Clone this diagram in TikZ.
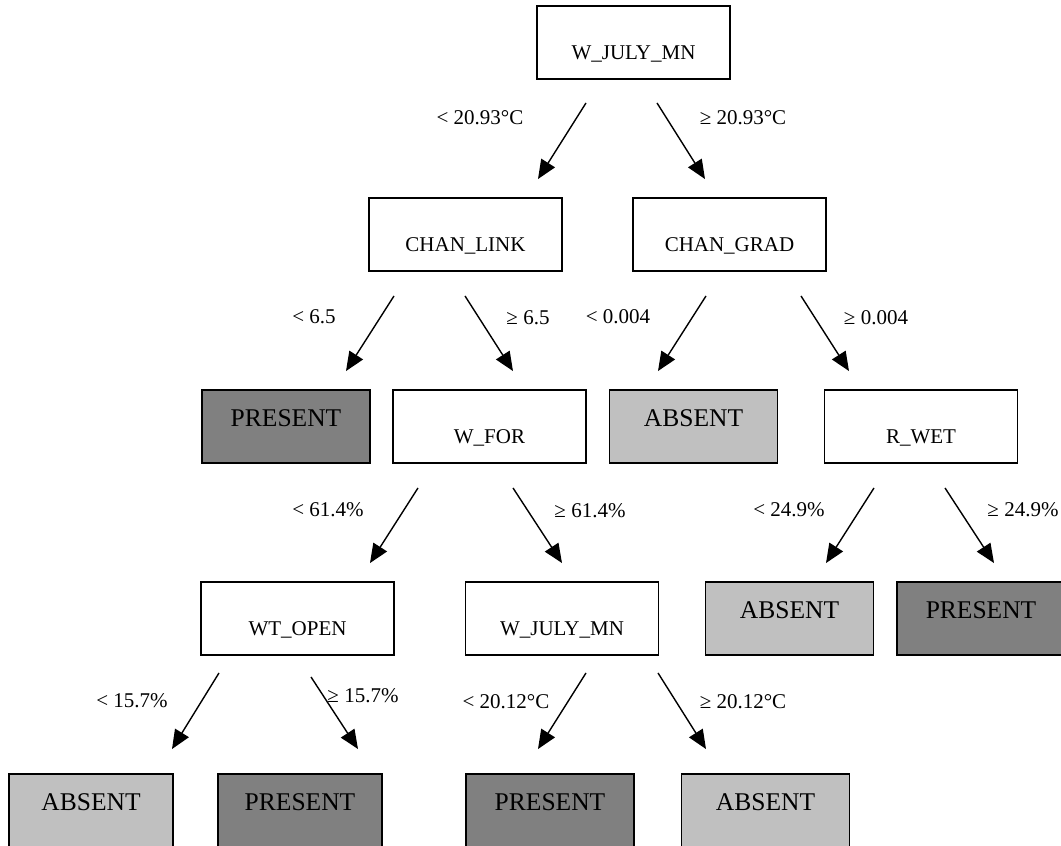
\documentclass[tikz,border=0pt]{standalone}
\usepackage{fontspec}
\setmainfont{Liberation Serif}
\usetikzlibrary{arrows.meta,calc}
\newcommand\fcond{\fontsize{21}{25}\selectfont}
\newcommand\fleaf{\fontsize{25.5}{30}\selectfont}
\definecolor{presentfill}{HTML}{808080}
\definecolor{absentfill}{HTML}{C0C0C0}
\begin{document}
\begin{tikzpicture}[x=1pt,y=-1pt,
  box/.style={draw, line width=1.9pt, minimum height=73pt, inner sep=0pt},
  split/.style={box, fill=white, minimum width=193pt,
    label={[text height=13.9pt,text depth=0pt,inner sep=0pt,yshift=-10.5pt,font=\fcond]center:#1}},
  leafp/.style={box, fill=presentfill, minimum width=168pt,
    label={[text height=16.9pt,text depth=0pt,inner sep=0pt,yshift=8.5pt,font=\fleaf]center:PRESENT}},
  leafa/.style={box, fill=absentfill, minimum width=168pt,
    label={[text height=16.9pt,text depth=0pt,inner sep=0pt,yshift=8.5pt,font=\fleaf]center:ABSENT}},
  cond/.style={font=\fcond, inner sep=0pt},
  arr/.style={line width=1.4pt, -{Triangle[length=19pt,width=16pt]}}
]
\useasboundingbox (0,0) rectangle (1061,846);
\clip (0,0) rectangle (1061,846);

% split and leaf boxes, level by level
\node[split=W\_JULY\_MN] (root) at (633.5,42.5) {};

\node[split=CHAN\_LINK] (cl) at (465.5,234.5) {};
\node[split=CHAN\_GRAD] (cg) at (729.5,234.5) {};

\node[leafp] (p3) at (286,426.5) {};
\node[split=W\_FOR] (wf) at (489.5,426.5) {};
\node[leafa] (a3) at (693.5,426.5) {};
\node[split=R\_WET] (rw) at (921,426.5) {};

\node[split=WT\_OPEN] (wo) at (297.5,618.5) {};
\node[split=W\_JULY\_MN] (wj) at (562,618.5) {};
\node[leafa] (a4) at (789.5,618.5) {};
\node[leafp] (p4) at (981,618.5) {};

\node[leafa, minimum width=164pt] (a5) at (91,810.5) {};
\node[leafp, minimum width=164pt] (p5) at (300,810.5) {};
\node[leafp] (p5b) at (550,810.5) {};
\node[leafa] (a5b) at (765.5,810.5) {};

% branches
\draw[arr] ($(root.south)+(-47.5,23)$) -- ($(cl.north)+(72.5,-18)$);
\draw[arr] ($(root.south)+(23.5,23)$) -- ($(cg.north)+(-24.5,-18)$);

\draw[arr] ($(cl.south)+(-71.5,24)$) -- ($(p3.north)+(60,-18)$);
\draw[arr] ($(cl.south)+(-0.5,24)$) -- ($(wf.north)+(23.5,-18)$);
\draw[arr] ($(cg.south)+(-23.5,24)$) -- ($(a3.north)+(-35.5,-18)$);
\draw[arr] ($(cg.south)+(71.5,24)$) -- ($(rw.north)+(-72,-18)$);

\draw[arr] ($(wf.south)+(-71.5,24)$) -- ($(wo.north)+(72.5,-18)$);
\draw[arr] ($(wf.south)+(23.5,24)$) -- ($(wj.north)+(0,-18)$);
\draw[arr] ($(rw.south)+(-47,24)$) -- ($(a4.north)+(36.5,-18)$);
\draw[arr] ($(rw.south)+(24,24)$) -- ($(p4.north)+(13,-18)$);

\draw[arr] ($(wo.south)+(-78.5,17)$) -- ($(a5.north)+(81,-24)$);
\draw[arr] ($(wo.south)+(13.5,21)$) -- ($(p5.north)+(58,-24)$);
\draw[arr] ($(wj.south)+(24,17)$) -- ($(p5b.north)+(-12,-24)$);
\draw[arr] ($(wj.south)+(96,17)$) -- ($(a5b.north)+(-59.5,-24)$);

% branch conditions
\node[cond] (c1) at (480,118) {< 20.93°C};
\node[cond] (c2) at (743,118) {≥ 20.93°C};
\node[cond] (c3) at (314,317) {< 6.5};
\node[cond] (c4) at (528,318) {≥ 6.5};
\node[cond] (c5) at (618,317) {< 0.004};
\node[cond] (c6) at (876,318) {≥ 0.004};
\node[cond] (c7) at (328,510) {< 61.4\%};
\node[cond] (c8) at (590,511) {≥ 61.4\%};
\node[cond] (c9) at (789,510) {< 24.9\%};
\node[cond] (c10) at (1023,510) {≥ 24.9\%};
\node[cond] (c11) at (132,701) {< 15.7\%};
\node[cond] (c12) at (363,696) {≥ 15.7\%};
\node[cond] (c13) at (506,702) {< 20.12°C};
\node[cond] (c14) at (743,702) {≥ 20.12°C};
\end{tikzpicture}
\end{document}
